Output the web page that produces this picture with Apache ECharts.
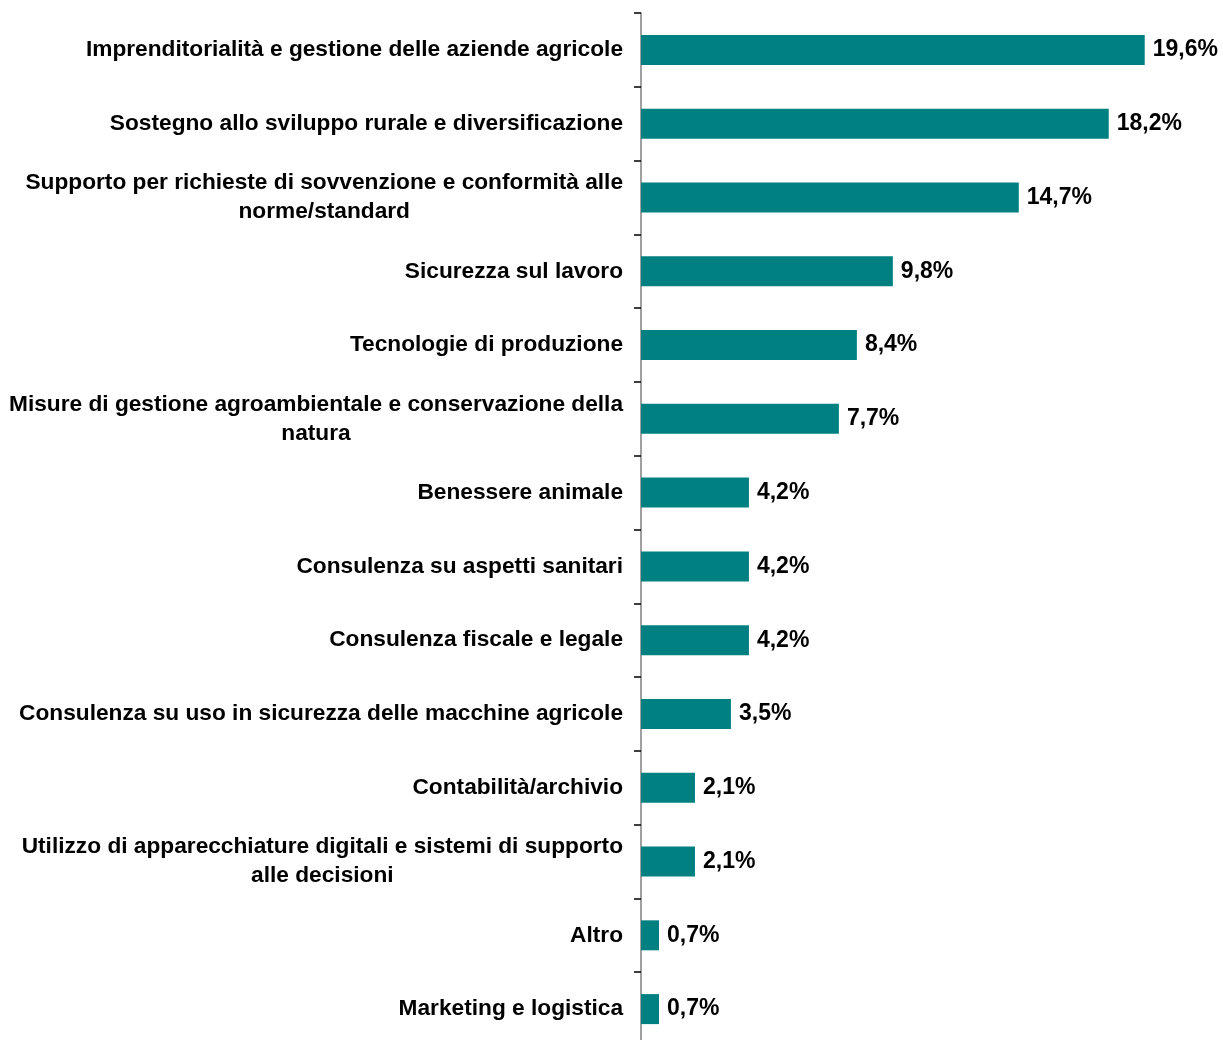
<!DOCTYPE html>
<html>
<head>
<meta charset="utf-8">
<script src="https://cdn.jsdelivr.net/npm/echarts@6/dist/echarts.min.js"></script>
<style>
html,body{margin:0;padding:0;background:#fff;}
#chart{width:1223px;height:1040px;}
</style>
</head>
<body>
<div id="chart"></div>
<script>
const categories = [
  "Imprenditorialità e gestione delle aziende agricole",
  "Sostegno allo sviluppo rurale e diversificazione",
  "Supporto per richieste di sovvenzione e conformità alle\nnorme/standard",
  "Sicurezza sul lavoro",
  "Tecnologie di produzione",
  "Misure di gestione agroambientale e conservazione della\nnatura",
  "Benessere animale",
  "Consulenza su aspetti sanitari",
  "Consulenza fiscale e legale",
  "Consulenza su uso in sicurezza delle macchine agricole",
  "Contabilità/archivio",
  "Utilizzo di apparecchiature digitali e sistemi di supporto\nalle decisioni",
  "Altro",
  "Marketing e logistica"
];
const values = [19.6, 18.2, 14.7, 9.8, 8.4, 7.7, 4.2, 4.2, 4.2, 3.5, 2.1, 2.1, 0.7, 0.7];

const FONT = '"Liberation Sans", Arial, sans-serif';
const FS = 22.7;
const chart = echarts.init(document.getElementById('chart'));
chart.setOption({
  animation: false,
  backgroundColor: '#ffffff',
  grid: { left: 641, width: 514, top: 13, height: 1033, containLabel: false, outerBoundsMode: 'none' },
  xAxis: {
    type: 'value', min: 0, max: 20,
    show: false
  },
  yAxis: {
    type: 'category',
    data: categories,
    inverse: true,
    axisLine: { show: true, lineStyle: { color: '#808080', width: 1.5 } },
    axisTick: { show: true, length: 7, inside: false, lineStyle: { color: '#000000', width: 1.5 } },
    axisLabel: {
      margin: 18,
      fontFamily: FONT,
      fontWeight: 'bold',
      fontSize: FS,
      color: '#000000',
      lineHeight: 29,
      formatter: function (v) {
        return v.split('\n').map(function (l) { return '{c|' + l + '}'; }).join('\n');
      },
      rich: {
        c: { align: 'center', fontFamily: FONT, fontWeight: 'bold', fontSize: FS, color: '#000', lineHeight: 29 }
      }
    },
    splitLine: { show: false }
  },
  series: [{
    type: 'bar',
    data: values,
    barWidth: 30,
    itemStyle: { color: '#008080' },
    label: {
      show: true,
      position: 'right',
      distance: 8,
      fontFamily: FONT,
      fontWeight: 'bold',
      fontSize: 23,
      color: '#000000',
      formatter: function (p) { return p.value.toFixed(1).replace('.', ',') + '%'; }
    }
  }]
});
</script>
</body>
</html>
